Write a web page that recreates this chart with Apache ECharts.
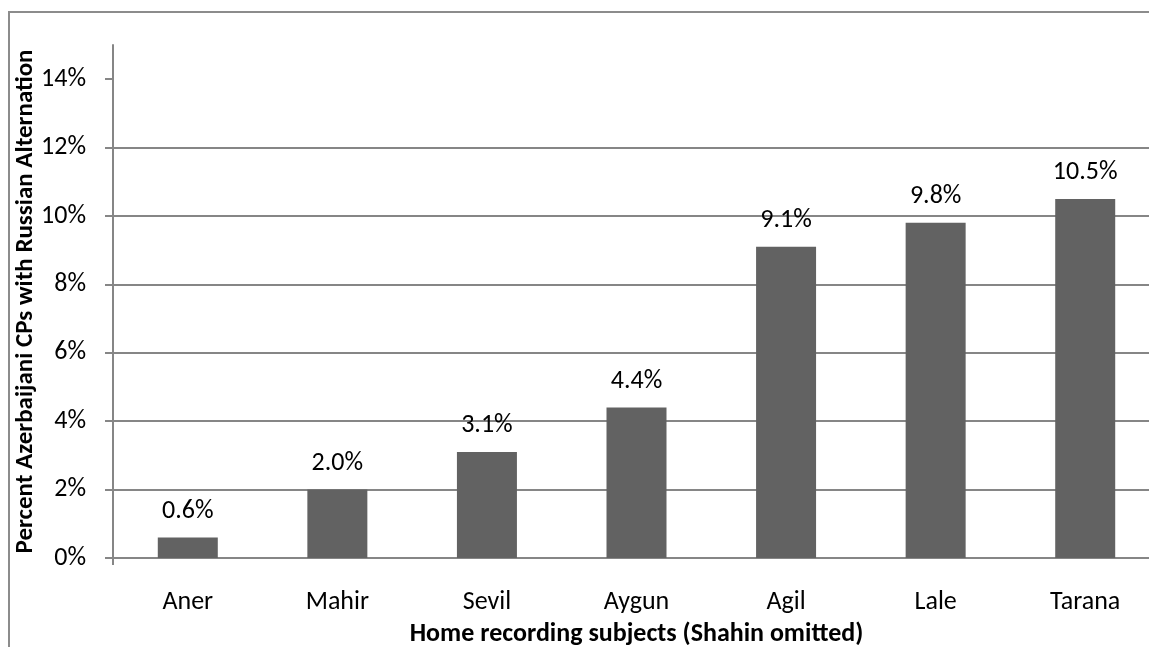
<!DOCTYPE html>
<html>
<head>
<meta charset="utf-8">
<script src="https://cdn.jsdelivr.net/npm/echarts@6/dist/echarts.min.js"></script>
<style>
  html, body { margin: 0; padding: 0; background: #fff; }
  #frame { position: absolute; left: 8px; top: 11px; width: 1200px; height: 700px;
           border-left: 2px solid #8c8c8c; border-top: 2px solid #8c8c8c; box-sizing: border-box; }
  #chart { position: absolute; left: 0; top: 0; width: 1149px; height: 647px; }
</style>
</head>
<body>
<div id="frame"></div>
<div id="chart"></div>
<script>
// Share of Azerbaijani CPs that show Russian alternation, per speaker
const subjects = ['Aner', 'Mahir', 'Sevil', 'Aygun', 'Agil', 'Lale', 'Tarana'];
const percentValues = [0.6, 2.0, 3.1, 4.4, 9.1, 9.8, 10.5];
const yTicks = [0, 2, 4, 6, 8, 10, 12, 14];

const FONT = 'Carlito, Lato, "Open Sans", sans-serif';

const chart = echarts.init(document.getElementById('chart'));
chart.setOption({
  animation: false,
  grid: { left: 113, right: -11, top: 45, bottom: 89, containLabel: false, outerBoundsMode: 'none' },
  xAxis: {
    type: 'category',
    data: subjects,
    name: 'Home recording subjects (Shahin omitted)',
    nameLocation: 'middle',
    nameGap: 63,
    nameMoveOverlap: false,
    nameTextStyle: { fontFamily: FONT, fontSize: 26, fontWeight: 'bold', color: '#000' },
    axisLine: { lineStyle: { color: '#868686', width: 2 } },
    axisTick: { show: true, length: 7, interval: (i) => i === 0, lineStyle: { color: '#868686', width: 2 } },
    axisLabel: { fontFamily: FONT, fontSize: 26, color: '#000', margin: 31 }
  },
  yAxis: {
    type: 'value',
    min: 0,
    max: 15,
    interval: 2,
    name: 'Percent Azerbaijani CPs with Russian Alternation',
    nameLocation: 'middle',
    nameGap: 75,
    nameMoveOverlap: false,
    nameTextStyle: { fontFamily: FONT, fontSize: 25, fontWeight: 'bold', color: '#000' },
    axisLine: { show: true, lineStyle: { color: '#868686', width: 2 } },
    axisTick: { show: true, length: 8, customValues: yTicks, lineStyle: { color: '#868686', width: 2 } },
    axisLabel: { fontFamily: FONT, fontSize: 26, color: '#000', margin: 27,
                 customValues: yTicks, formatter: (v) => v + '%' },
    splitLine: { show: true, showMaxLine: false, lineStyle: { color: '#868686', width: 2 } }
  },
  series: [{
    type: 'bar',
    data: percentValues,
    barWidth: 60,
    itemStyle: { color: '#626262' },
    label: {
      show: true,
      position: 'top',
      distance: 13,
      fontFamily: FONT,
      fontSize: 26,
      color: '#000',
      formatter: (p) => p.value.toFixed(1) + '%'
    }
  }]
});
</script>
</body>
</html>
